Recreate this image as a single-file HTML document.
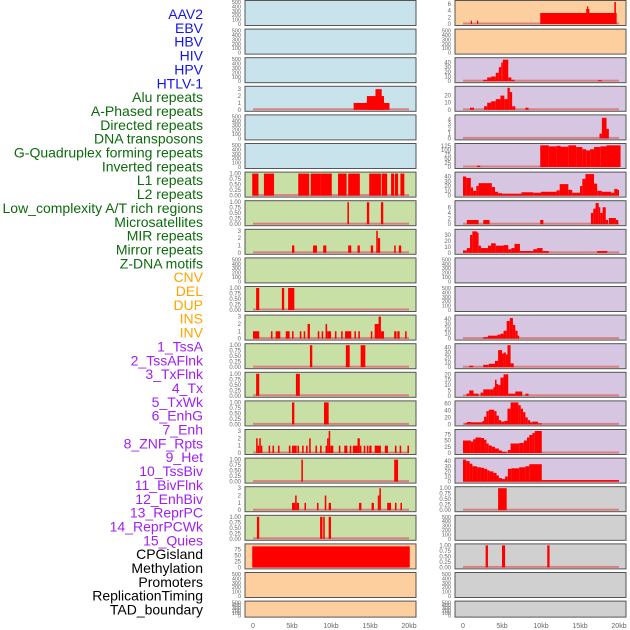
<!DOCTYPE html>
<html><head><meta charset="utf-8"><style>
body{margin:0;background:#fff;width:630px;height:630px;overflow:hidden}
svg{display:block;font-family:"Liberation Sans",sans-serif}
</style></head><body>
<svg id="chart" width="630" height="630"></svg>
<script>
const labels=["AAV2","EBV","HBV","HIV","HPV","HTLV-1","Alu repeats","A-Phased repeats","Directed repeats","DNA transposons","G-Quadruplex forming repeats","Inverted repeats","L1 repeats","L2 repeats","Low_complexity A/T rich regions","Microsatellites","MIR repeats","Mirror repeats","Z-DNA motifs","CNV","DEL","DUP","INS","INV","1_TssA","2_TssAFlnk","3_TxFlnk","4_Tx","5_TxWk","6_EnhG","7_Enh","8_ZNF_Rpts","9_Het","10_TssBiv","11_BivFlnk","12_EnhBiv","13_ReprPC","14_ReprPCWk","15_Quies","CPGisland","Methylation","Promoters","ReplicationTiming","TAD_boundary"];
const labelColors=Array(6).fill("#1515e6").concat(Array(13).fill("#0c6b0c"),Array(5).fill("#ffa500"),Array(15).fill("#a020f0"),Array(5).fill("#000"));
const xTicks=[0,5,10,15,20];
const xTickLabels=["0","5kb","10kb","15kb","20kb"];
const E=null;
const P=[0,0.25,0.5,0.75,1.0];
const leftBg=["b","b","b","b","b","b","g","g","g","g","g","g","g","g","g","g","g","g","g","o","o","o"];
const rightBg=["o","o","p","p","p","p","p","p","p","p","p","p","p","p","p","p","p","r","r","r","r","r"];
const leftMax=[E,E,E,3.2,E,E,1,1,3,E,1,3,1,1,1,3,1,3,1,92,E,E];
const rightMax=[6.6,E,47,31,4.6,130,46,7.8,37,E,E,45,45,20.5,63,88,43,1,E,1,E,E];
const leftTicks=[E,E,E,[0,1,2,3],E,E,P,P,[0,1,2,3],E,P,[0,1,2,3],P,P,P,[0,1,2,3],P,[0,1,2,3],P,[0,25,50,75],E,E];
const rightTicks=[[0,2,4,6],E,[0,10,20,30,40],[0,10,20],[0,1,2,3,4],[0,25,50,75,100,125],[0,10,20,30,40],[0,2,4,6],[0,10,20,30],E,E,[0,10,20,30,40],[0,10,20,30,40],[0,5,10,15,20],[0,20,40,60],[0,25,50,75],[0,10,20,30,40],P,E,P,E,E];
const leftSegs=[[],[],[],
[[12.9,17.5,1],[14.6,16.8,2],[15.7,16.5,3]],
[],[],
[[-0.1,0.7,1],[1.4,2.7,1],[5.8,7.2,1],[7.4,8.6,1],[8.6,10.1,1],[10.9,12,1],[12.2,13.7,1],[14.9,16.4,1],[16.5,16.8,1],[16.7,17.2,1],[17.7,18.1,1],[18.2,18.6,1],[18.9,19.4,1]],
[[12.1,12.3,1],[14.6,14.9,1],[16.4,16.7,1]],
[[5.0,5.3,1],[7.7,8.2,1],[9.0,9.4,1],[12.2,12.6,1],[13.4,13.7,1],[15.1,15.4,1],[15.8,16.0,3],[16.0,16.3,2],[18.1,18.3,1],[18.7,19.0,1]],
[],
[[0.4,0.8,1],[3.7,4.0,1],[4.5,5.3,1]],
[[0,0.8,1],[2.3,2.5,1],[2.9,3.5,1],[4.2,4.7,1],[5.0,5.2,1],[6.0,6.2,1],[6.5,6.7,1],[7.0,7.3,2],[8.3,8.5,1],[8.8,9.0,1],[9.3,9.5,2],[9.5,10.0,1],[10.5,10.7,1],[11.3,11.5,1],[11.8,12.6,1],[13.0,13.2,1],[13.5,13.7,1],[15.1,15.3,1],[15.6,16.1,2],[16.1,16.4,3],[16.4,16.8,1],[18.1,18.4,1],[18.5,18.8,1],[19.5,19.7,1]],
[[7.3,7.6,1],[11.9,12.4,1],[13.8,14.4,1]],
[[0.4,0.8,1],[5.5,6.0,1]],
[[5.0,5.3,1],[9.1,9.7,1]],
[[0.4,0.6,2],[0.6,0.8,1],[0.8,1.0,2],[1.0,1.2,1],[2.0,2.2,1],[2.5,2.7,1],[3.2,3.4,1],[4.6,4.8,1],[5.0,5.6,1],[5.7,5.9,1],[6.3,6.5,1],[6.8,7.0,1],[7.2,7.4,2],[8.0,8.2,1],[8.6,8.8,1],[9.3,9.5,1],[9.5,9.7,2],[9.7,9.9,3],[9.9,10.3,1],[11.0,11.2,1],[11.7,12.1,1],[12.4,12.6,1],[12.8,13.4,1],[13.4,13.7,2],[13.7,13.9,1],[14.2,14.4,1],[14.6,14.8,1],[14.9,15.2,1],[15.6,16.4,1],[16.9,17.3,1],[18.2,18.4,1],[18.8,19.0,1],[19.8,20.0,1]],
[[6.2,6.4,1],[18.1,18.6,1]],
[[5.0,5.4,1],[5.4,5.6,2],[5.6,5.9,1],[6.6,6.8,1],[8.2,8.4,1],[9.2,9.4,2],[9.7,10.0,1],[13.6,13.9,1],[15.2,15.5,1],[16.0,16.2,2],[16.2,16.4,3],[17.2,17.7,1],[18.2,18.4,1],[18.9,19.1,1]],
[[0.5,0.8,1],[8.6,8.9,1],[9.0,9.2,1],[9.7,10.0,1]],
[[-0.1,20.1,88]],
[],[]];
const rightSegs=[
[[1.0,1.1,1],[1.8,1.9,1],[9.9,19.7,3.3],[15.8,16.2,4.5],[15.9,16.0,5.3],[19.4,19.6,6.6]],
[],
[[2.6,3.1,3],[3.1,3.6,8],[3.6,4.2,10],[4.2,4.6,18],[4.6,4.9,30],[4.9,5.1,40],[5.1,5.8,46],[5.8,6.2,8],[6.2,6.6,3],[17.3,17.8,2]],
[[0.9,1.4,3],[2.7,3.1,5],[3.1,3.6,10],[3.6,4.2,12],[4.2,4.8,15],[4.8,5.3,20],[5.3,5.7,15],[5.7,6.0,31],[6.0,6.3,25],[6.3,6.7,5],[8.0,8.4,3]],
[[17.5,17.8,1],[17.8,18.4,4.3],[18.4,18.7,2]],
[[1.8,2.2,8],[9.9,11.0,128],[11.0,12.0,122],[12.0,12.5,125],[12.5,13.5,120],[13.5,14.5,128],[14.5,15.3,118],[15.3,15.8,105],[15.8,16.3,98],[16.3,16.8,105],[16.8,17.6,118],[17.6,18.4,122],[18.4,20.2,128]],
[[0,0.4,40],[0.4,1.0,37],[1.0,1.3,17],[1.3,1.7,10],[1.7,2.0,20],[2.0,3.7,26],[3.7,4.1,18],[4.1,4.5,8],[4.5,5,5],[5,7.5,4],[7.5,9,7],[9,10,6],[10,12,8],[12,12.4,11],[12.4,13.5,24],[13.5,14,12],[14,15,6],[15,15.3,20],[15.3,15.7,35],[15.7,16.8,45],[16.8,17.2,25],[17.2,17.8,10],[17.8,19,8],[19,19.4,6],[19.4,19.8,14],[19.8,20,12]],
[[0.5,2.0,1.5],[2.6,3.4,1.5],[9.9,10.3,1.5],[16.4,16.7,4],[16.7,17.0,5.5],[17.0,17.4,7.5],[17.4,17.6,6],[17.6,17.9,4],[17.9,18.3,6],[18.3,18.6,1.5],[18.7,19.6,2.2],[19.6,19.9,1.5]],
[[0,0.5,4],[0.5,0.9,8],[0.9,1.2,30],[1.2,1.8,36],[1.8,2.0,34],[2.0,2.3,12],[2.3,3.2,8],[3.2,3.6,12],[3.6,4.2,16],[4.2,5.2,12],[5.2,5.8,13],[5.8,6.2,6],[6.2,6.6,8],[6.6,7.3,15],[7.3,9,3],[9,9.5,6],[9.5,10.2,8],[10.2,11,3],[17.2,18.5,3]],
[],[],
[[2.6,3.2,3],[3.2,4.4,6],[4.4,4.8,8],[4.8,5.2,10],[5.2,5.6,16],[5.6,6.0,36],[6.0,6.4,42],[6.4,6.7,28],[6.7,7.0,16],[7.0,7.2,6]],
[[0.8,1.3,3],[2.6,3.3,5],[3.3,4.1,7],[4.1,4.5,13],[4.5,5.0,35],[5.0,5.2,28],[5.2,5.5,30],[5.5,5.7,26],[5.7,6.1,45],[6.1,6.5,8]],
[[0.45,0.8,2],[0.8,1.35,5],[1.35,2.0,2],[2.25,2.6,3],[2.6,3.5,6],[3.5,3.9,6],[3.9,4.1,8],[4.1,4.3,15],[4.3,4.5,11],[4.5,4.8,10],[4.8,5.2,17],[5.2,5.8,20],[5.8,6.7,2],[6.7,7.6,4],[8.0,8.4,2]],
[[0.2,0.5,3],[0.5,1.0,7],[1.0,2.5,6],[2.5,2.7,10],[2.7,3.0,22],[3.0,3.3,38],[3.3,4.0,42],[4.0,4.3,38],[4.3,4.6,25],[4.6,4.9,12],[4.9,5.3,8],[5.3,5.7,10],[5.7,6.1,45],[6.1,7.1,63],[7.1,7.4,55],[7.4,7.7,45],[7.7,8.0,35],[8.0,8.3,20],[8.3,8.6,12],[8.6,8.9,6],[8.9,9.6,8],[9.6,10.1,3]],
[[0,1.0,50],[1.0,1.3,46],[1.3,1.6,55],[1.6,2.3,62],[2.3,2.7,60],[2.7,3.0,53],[3.0,3.3,38],[3.3,3.7,30],[3.7,4.1,25],[4.1,4.6,18],[4.6,5.0,10],[5.0,5.6,5],[5.75,6.1,12],[6.1,7.2,38],[7.2,7.8,40],[7.8,8.2,50],[8.2,8.5,62],[8.5,8.9,72],[8.9,9.2,80],[9.2,10.1,88]],
[[0,0.4,43],[0.4,0.85,40],[0.85,1.2,35],[1.2,1.8,30],[1.8,2.3,28],[2.3,2.7,27],[2.7,3.1,25],[3.1,3.4,22],[3.4,3.9,20],[3.9,4.3,17],[4.3,4.6,12],[4.6,5.0,7],[5.0,5.4,5],[5.4,5.75,10],[5.75,6.2,25],[6.2,7.2,26],[7.2,8.0,28],[8.0,8.5,30],[8.5,10.1,34],[10.1,20,3]],
[[4.5,5.6,1]],
[],
[[2.9,3.2,1],[5.0,5.4,1],[10.8,11.1,1]],
[],[]];

const NS="http://www.w3.org/2000/svg";
const svg=document.getElementById("chart");
const bgCol={b:"#c8e3ec",g:"#c8e0a6",o:"#fecf9e",p:"#d6c6e1",r:"#d0d0d0"};
function mk(t,a,p){const e=document.createElementNS(NS,t);for(const k in a)e.setAttribute(k,a[k]);(p||svg).appendChild(e);return e;}
const PITCH=28.6;
function rowTop(i){return i*PITCH+0.5;}
function rowH(i){return i===21?16:25;}

labels.forEach((t,i)=>{
  const el=mk("text",{x:203,y:19+i*13.85,"text-anchor":"end","font-size":"14",fill:labelColors[i]});
  el.textContent=t;
  
  
});

function drawCol(px,bgs,maxs,ticks,segs,side){
  const x0=px+8, x1=px+164;
  const xs=kb=>x0+kb/20*(x1-x0);
  for(let i=0;i<22;i++){
    const top=rowTop(i),h=rowH(i);
    const g=mk("g",{});
    
    
    mk("rect",{x:px,y:top,width:171,height:h,fill:bgCol[bgs[i]]},g);
    const empty=maxs[i]===null;
    const ymax=empty?500:maxs[i];
    const tk=empty?[0,100,200,300,400,500]:ticks[i];
    const ys=v=>top+h-1.5-v/ymax*(h-3);
    tk.forEach(v=>{
      const t=mk("text",{x:px-4,y:ys(v)+2,"text-anchor":"end","font-size":empty?"5.5":"6",fill:"#666"},g);
      t.textContent=(ticks[i]===P)?v.toFixed(2):String(v);
      
      
    });
    if(!empty){
      const bl=mk("rect",{x:xs(0),y:ys(0)-1.5,width:xs(20)-xs(0),height:2,fill:"#d98080"},g);
      
      
      segs[i].forEach(s=>{
        const r=mk("rect",{x:xs(s[0]),y:ys(Math.min(s[2],ymax)),width:Math.max(1.2,xs(s[1])-xs(s[0])),height:ys(0)-ys(Math.min(s[2],ymax)),fill:"#ff0000"},g);
        
        
      });
    }
    mk("rect",{x:px,y:top,width:171,height:h,fill:"none",stroke:"#555","stroke-width":1},g);
  }
  xTicks.forEach((v,j)=>{
    const t=mk("text",{x:xs(v),y:628,"text-anchor":"middle","font-size":"7",fill:"#666"});
    t.textContent=xTickLabels[j];
    
    
  });
}
drawCol(245,leftBg,leftMax,leftTicks,leftSegs,'left');
drawCol(455,rightBg,rightMax,rightTicks,rightSegs,'right');
</script>
</body></html>
